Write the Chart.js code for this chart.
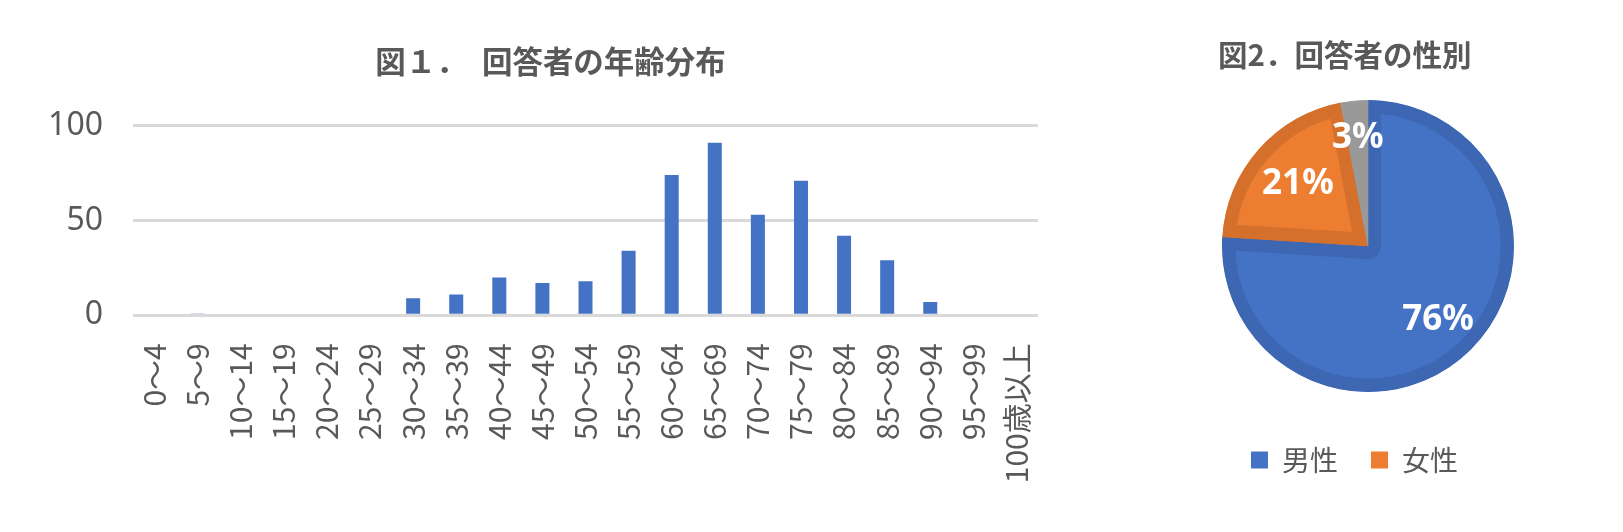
<!DOCTYPE html>
<html>
<head>
<meta charset="utf-8">
<script src="https://cdn.jsdelivr.net/npm/chart.js@4.4.1/dist/chart.umd.min.js"></script>
<style>
  html, body { margin: 0; padding: 0; background: #ffffff; }
  body { width: 1623px; height: 532px; position: relative; overflow: hidden; }
  .box { position: absolute; top: 0; height: 532px; }
  #barBox { left: 0; width: 1101px; }
  #pieBox { left: 1168px; width: 400px; }
</style>
</head>
<body>
<div id="barBox" class="box"><canvas id="barChart"></canvas></div>
<div id="pieBox" class="box"><canvas id="pieChart"></canvas></div>
<script>
// ---- data ----
const ageCategories = ['0～4','5～9','10～14','15～19','20～24','25～29','30～34','35～39','40～44','45～49','50～54','55～59','60～64','65～69','70～74','75～79','80～84','85～89','90～94','95～99','100歳以上'];
const ageCounts = [0, 1, 0, 0, 0, 0, 9, 11, 20, 17, 18, 34, 74, 91, 53, 71, 42, 29, 7, 0, 0];
const yTickValues = [0, 50, 100];
const barTitle = '図１．　回答者の年齢分布';

const genderLabels = ['男性', '女性', '無回答'];
const genderShares = [76, 21, 3];
const pieTitle = '図2．回答者の性別';

// ---- styles ----
const TEXT = '#595959';
const CJK = "'Noto Sans CJK JP', 'Noto Sans', sans-serif";

Chart.defaults.animation = false;
Chart.defaults.color = TEXT;
Chart.defaults.font.family = CJK;

new Chart(document.getElementById('barChart'), {
  type: 'bar',
  data: {
    labels: ageCategories,
    datasets: [{
      data: ageCounts,
      backgroundColor: '#4472C4',
      borderWidth: 0,
      barPercentage: 0.325,
      categoryPercentage: 1.0
    }]
  },
  options: {
    responsive: true,
    maintainAspectRatio: false,
    layout: { padding: 0 },
    plugins: {
      legend: { display: false },
      tooltip: { enabled: false },
      title: {
        display: true,
        text: barTitle,
        color: TEXT,
        font: { size: 30.5, weight: 'bold', family: CJK, lineHeight: 1.2 },
        padding: { top: 43, bottom: 46.1 }
      }
    },
    scales: {
      x: {
        grid: { display: false },
        border: { display: false },
        ticks: {
          autoSkip: false,
          minRotation: 90,
          maxRotation: 90,
          padding: 20,
          color: TEXT,
          font: { size: 30, family: CJK }
        },
        afterFit(s) { s.height = 216.7; }
      },
      y: {
        min: 0,
        max: 100,
        afterBuildTicks(s) { s.ticks = yTickValues.map(v => ({ value: v })); },
        grid: { color: '#d9d9d9', lineWidth: 3, drawTicks: false },
        border: { display: false },
        ticks: {
          padding: 30,
          color: TEXT,
          font: { size: 32, family: "'Noto Sans', sans-serif" }
        },
        afterFit(s) { s.width = 133; }
      },
      y2: {
        position: 'right',
        display: true,
        min: 0,
        max: 100,
        grid: { display: false },
        border: { display: false },
        ticks: { display: false },
        afterFit(s) { s.width = 63; }
      }
    }
  }
});

const labelRadiusFactor = [0.70, 0.64, 0.74];
const pieLabels = {
  id: 'pieLabels',
  afterDatasetsDraw(chart) {
    const ctx = chart.ctx;
    const meta = chart.getDatasetMeta(0);
    ctx.save();
    ctx.fillStyle = '#ffffff';
    ctx.font = "bold 35px 'Noto Sans', sans-serif";
    ctx.textAlign = 'center';
    ctx.textBaseline = 'middle';
    meta.data.forEach((arc, i) => {
      const p = arc.getProps(['x', 'y', 'startAngle', 'endAngle', 'outerRadius'], true);
      const mid = (p.startAngle + p.endAngle) / 2;
      const r = p.outerRadius * labelRadiusFactor[i];
      ctx.fillText(genderShares[i] + '%', p.x + Math.cos(mid) * r, p.y + Math.sin(mid) * r);
    });
    ctx.restore();
  }
};

new Chart(document.getElementById('pieChart'), {
  type: 'pie',
  data: {
    labels: genderLabels,
    datasets: [{
      data: genderShares,
      backgroundColor: ['#4472C4', '#ED7D31', '#A5A5A5'],
      borderColor: ['#3D66B3', '#D5702C', '#999999'],
      borderWidth: 13,
      borderAlign: 'inner',
      radius: 146,
      hoverOffset: 0
    }]
  },
  options: {
    responsive: true,
    maintainAspectRatio: false,
    layout: { padding: { left: 50, right: 50, top: 0, bottom: 48 } },
    plugins: {
      tooltip: { enabled: false },
      title: {
        display: true,
        text: pieTitle,
        align: 'start',
        color: TEXT,
        font: { size: 29.5, weight: 'bold', family: CJK, lineHeight: 1.2 },
        padding: { top: 37.3, bottom: 6.3 }
      },
      legend: {
        position: 'bottom',
        align: 'start',
        labels: {
          boxWidth: 17,
          boxHeight: 17,
          padding: 33,
          color: TEXT,
          font: { size: 28, family: CJK },
          filter: (item) => item.index < 2,
          generateLabels(chart) {
            const items = Chart.overrides.pie.plugins.legend.labels.generateLabels(chart);
            return items.map(it => Object.assign(it, { lineWidth: 0, strokeStyle: 'rgba(0,0,0,0)' }));
          }
        }
      }
    }
  },
  plugins: [pieLabels]
});
</script>
</body>
</html>
